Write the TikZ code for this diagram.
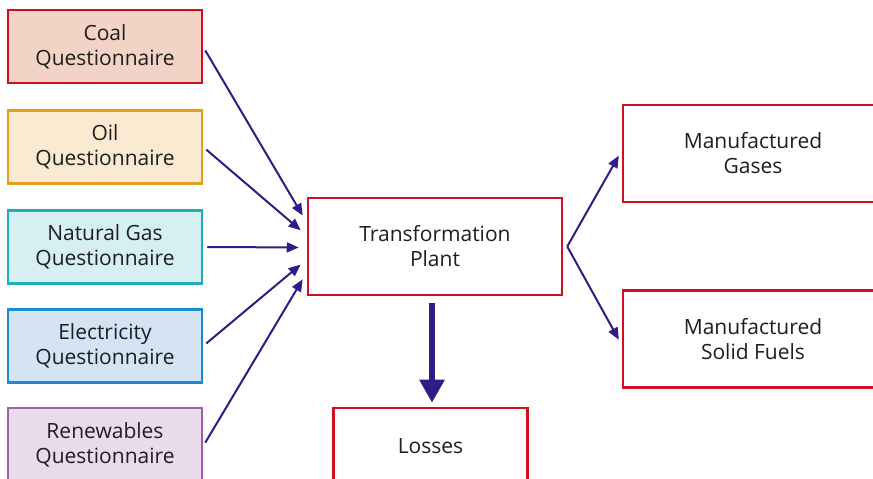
\documentclass[tikz,border=0pt]{standalone}
\usepackage{fontspec}
\setmainfont{Open Sans}
\usepackage{xcolor}
\usetikzlibrary{positioning,arrows.meta,calc}
\definecolor{flowcolor}{RGB}{46, 28, 135}
\definecolor{boxred}{RGB}{208, 16, 32}
\definecolor{coalfill}{RGB}{242, 211, 198}
\definecolor{oilfill}{RGB}{250, 234, 210}
\definecolor{oildraw}{RGB}{226, 160, 30}
\definecolor{gasfill}{RGB}{214, 239, 242}
\definecolor{gasdraw}{RGB}{30, 174, 192}
\definecolor{elecfill}{RGB}{212, 228, 244}
\definecolor{elecdraw}{RGB}{26, 140, 210}
\definecolor{renewfill}{RGB}{233, 218, 236}
\definecolor{renewdraw}{RGB}{160, 96, 168}
\definecolor{labelcolor}{RGB}{30, 30, 30}
\tikzset{
    box/.style={rectangle, draw=boxred, line width=2.5pt, fill=white, align=center,
        text=labelcolor, font=\fontsize{21}{25}\selectfont, inner sep=0pt},
    source box/.style={box, minimum width=194pt, minimum height=73pt},
    plant box/.style={box, minimum width=254pt, minimum height=97pt},
    product box/.style={box, minimum width=260pt, minimum height=97pt},
    feed/.style={-{Triangle[length=12pt,width=10pt]}, line width=2pt, flowcolor,
        shorten <=4pt, shorten >=8pt},
    output/.style={-{Triangle[length=12pt,width=10pt]}, line width=2pt, flowcolor,
        shorten >=6pt},
    loss arrow/.style={-{Triangle[length=23pt,width=24pt]}, line width=6pt, flowcolor,
        shorten <=7pt, shorten >=4pt}
}

\begin{document}
\begin{tikzpicture}[x=1pt, y=1pt]
    \useasboundingbox (0,0) rectangle (873,479);

    % Questionnaires on the left
    \node[source box, fill=coalfill] (coal) at (105,432.5) {Coal\\Questionnaire};
    \node[source box, fill=oilfill, draw=oildraw] (oil) at (105,332) {Oil\\Questionnaire};
    \node[source box, fill=gasfill, draw=gasdraw] (natgas) at (105,232) {Natural Gas\\Questionnaire};
    \node[source box, fill=elecfill, draw=elecdraw] (elec) at (105,133) {Electricity\\Questionnaire};
    \node[source box, fill=renewfill, draw=renewdraw] (renew) at (105,34.5) {Renewables\\Questionnaire};

    % Plant, products and losses
    \node[plant box] (plant) at (435,232.5) {Transformation\\Plant};
    \node[product box] (gases) at (753,325.5) {Manufactured\\Gases};
    \node[product box] (solid) at (753,140) {Manufactured\\Solid Fuels};
    \node[source box, minimum height=76pt] (losses) at (430.5,33) {Losses};

    % Inputs into the plant
    \draw[feed] (coal.east |- 0,432) -- ([yshift=24]plant.west);
    \draw[feed] (oil.east) -- ([yshift=11]plant.west);
    \draw[feed] (natgas.east) -- ([yshift=-1]plant.west);
    \draw[feed] (elec.east) -- ([yshift=-13]plant.west);
    \draw[feed] (renew.east |- 0,33) -- ([yshift=-26]plant.west);

    % Outputs of the plant
    \coordinate (fork) at ([xshift=4]plant.east);
    \draw[output] (fork) -- ([yshift=3]gases.west);
    \draw[output] (fork) -- ([yshift=-6]solid.west);

    % Losses
    \draw[loss arrow] ([xshift=-3]plant.south) -- ([xshift=1.5]losses.north);
\end{tikzpicture}
\end{document}
